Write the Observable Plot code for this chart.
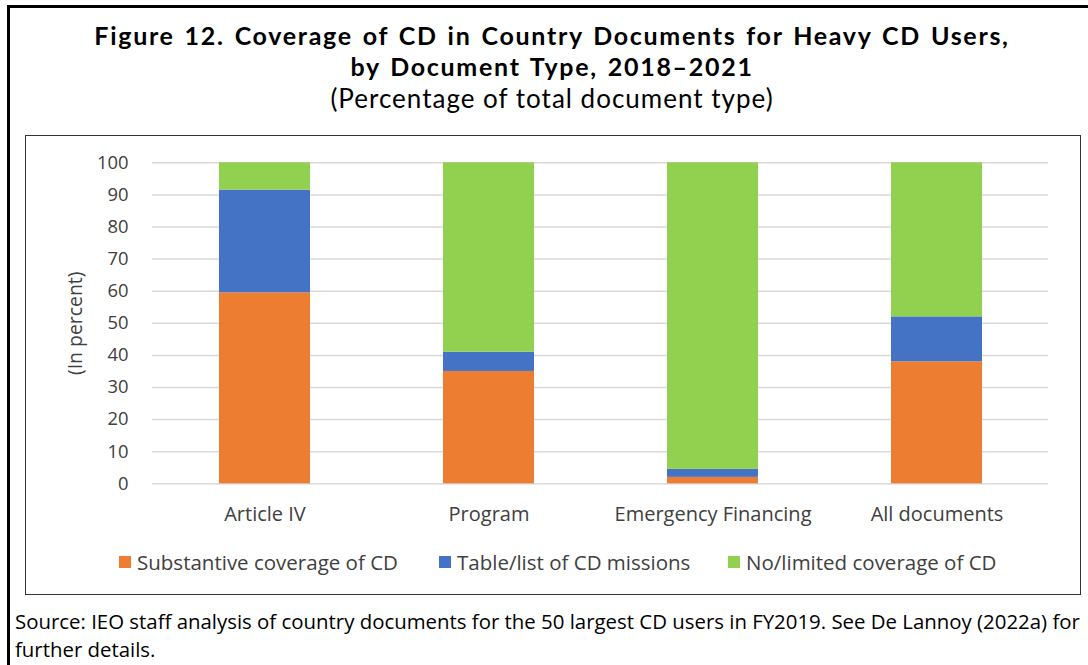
<!DOCTYPE html>
<html>
<head>
<meta charset="utf-8">
<script src="https://cdn.jsdelivr.net/npm/d3@7"></script>
<script src="https://cdn.jsdelivr.net/npm/@observablehq/plot@0.6"></script>
<style>
  html, body { margin: 0; padding: 0; background: #fff; }
  #page { position: relative; width: 1088px; height: 665px; overflow: hidden; background: #fff; }
  .abs { position: absolute; }
  #outer { left: 7px; top: 5px; width: 1200px; height: 800px; border-top: 3px solid #000; border-left: 3px solid #000; box-sizing: border-box; }
  #inner { left: 25px; top: 135px; width: 1056px; height: 460px; border: 1.5px solid #333; box-sizing: border-box; }
  #title { left: 0; top: 20.4px; width: 1104px; text-align: center; font-family: Lato, sans-serif; font-weight: 700; font-size: 25px; letter-spacing: 1.7px; word-spacing: 2.2px; line-height: 30.5px; color: #000; }
  #subtitle { left: 0; top: 85px; width: 1104px; text-align: center; font-family: Lato, sans-serif; font-weight: 400; font-size: 26px; letter-spacing: 1px; line-height: 26px; color: #000; }
  #chart { left: 26px; top: 136px; }
  .leg { position: absolute; top: 549px; height: 26px; display: flex; align-items: center; font-family: "Open Sans", sans-serif; font-size: 20.5px; color: #404040; white-space: nowrap; }
  .sw { width: 12px; height: 12px; margin-right: 6px; }
  #source { left: 15px; top: 606.5px; font-family: "Open Sans", sans-serif; font-size: 20.4px; line-height: 28px; color: #000; white-space: nowrap; }
</style>
</head>
<body>
<div id="page">
  <div id="outer" class="abs"></div>
  <div id="title" class="abs"></div>
  <div id="subtitle" class="abs"></div>
  <div id="inner" class="abs"></div>
  <div id="chart" class="abs"></div>
  <div id="legend"></div>
  <div id="source" class="abs"></div>
</div>
<script>
const titleLines = ["Figure 12. Coverage of CD in Country Documents for Heavy CD Users,", "by Document Type, 2018\u20132021"];
const subtitle = "(Percentage of total document type)";
const yLabel = "(In percent)";
const sourceLines = ["Source: IEO staff analysis of country documents for the 50 largest CD users in FY2019. See De Lannoy (2022a) for", "further details."];

const categories = ["Article IV", "Program", "Emergency Financing", "All documents"];
const seriesNames = ["Substantive coverage of CD", "Table/list of CD missions", "No/limited coverage of CD"];
const substantive = [59.5, 35, 2, 38];
const tableList = [32, 6, 2.5, 14];
const noLimited = [8.5, 59, 95.5, 48];
const seriesColors = ["#ED7D31", "#4472C4", "#92D050"];
const yTicks = [0, 10, 20, 30, 40, 50, 60, 70, 80, 90, 100];

const seriesValues = [substantive, tableList, noLimited];
const rows = [];
categories.forEach((c, i) => {
  seriesNames.forEach((s, j) => rows.push({category: c, series: s, value: seriesValues[j][i]}));
});

document.getElementById("title").innerHTML = titleLines.join("<br>");
document.getElementById("subtitle").textContent = subtitle;
document.getElementById("source").innerHTML = sourceLines.join("<br>");

const chart = Plot.plot({
  width: 1054,
  height: 400,
  marginLeft: 126,
  marginRight: 32,
  marginTop: 26.3,
  marginBottom: 52.7,
  style: {fontFamily: "'Open Sans', sans-serif", color: "#404040", background: "transparent"},
  x: {domain: categories, paddingInner: 0.594, paddingOuter: 0.297, label: null},
  y: {domain: [0, 100], label: null},
  color: {domain: seriesNames, range: seriesColors},
  marks: [
    Plot.ruleY(yTicks, {stroke: "#d9d9d9", strokeWidth: 1.5}),
    Plot.barY(rows, {x: "category", y: "value", fill: "series"}),
    Plot.axisY({ticks: yTicks, tickSize: 0, tickPadding: 24, fontSize: 18.4, label: null, tickFormat: d3.format("d")}),
    Plot.axisX({tickSize: 0, tickPadding: 22.5, fontSize: 20, label: null}),
    Plot.text([yLabel], {text: d => d, frameAnchor: "left", textAnchor: "middle", lineAnchor: "middle", dx: -77, rotate: -90, fontSize: 19.4, fill: "#404040"})
  ]
});
document.getElementById("chart").appendChild(chart);

const legendX = [119, 439, 728];
const legend = document.getElementById("legend");
seriesNames.forEach((s, i) => {
  const item = document.createElement("div");
  item.className = "leg";
  item.style.left = legendX[i] + "px";
  const sw = document.createElement("div");
  sw.className = "sw";
  sw.style.background = seriesColors[i];
  const t = document.createElement("span");
  t.textContent = s;
  item.appendChild(sw);
  item.appendChild(t);
  legend.appendChild(item);
});
</script>
</body>
</html>
